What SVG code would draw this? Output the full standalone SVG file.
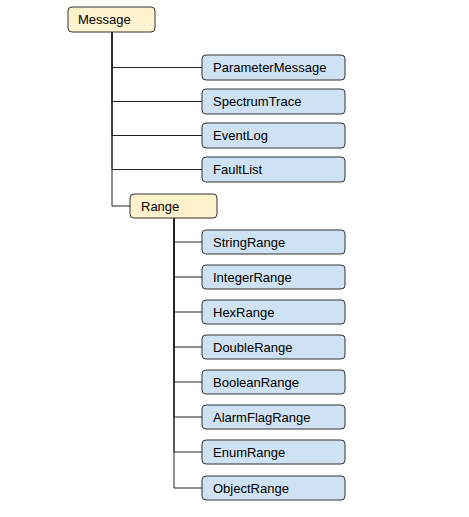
<svg xmlns="http://www.w3.org/2000/svg" width="469" height="517" viewBox="0 0 469 517">
<style>
.y{fill:#fff2cc;stroke:#333;stroke-width:1}
.b{fill:#cfe2f3;stroke:#333;stroke-width:1}
text{font-family:"Liberation Sans",Arial,sans-serif;font-size:13px;fill:#000;dominant-baseline:central}
.c{fill:none;stroke:#222;stroke-width:1}
</style>
<rect width="469" height="517" fill="#fff"/>
<g id="connectors">
<path class="c" d="M112 32V67.5H202"/>
<path class="c" d="M112 32V101.5H202"/>
<path class="c" d="M112 32V135.5H202"/>
<path class="c" d="M112 32V169.5H202"/>
<path class="c" d="M112 32V206H130"/>
<path class="c" d="M174 218V242H202"/>
<path class="c" d="M174 218V277H202"/>
<path class="c" d="M174 218V312H202"/>
<path class="c" d="M174 218V347H202"/>
<path class="c" d="M174 218V382H202"/>
<path class="c" d="M174 218V417H202"/>
<path class="c" d="M174 218V452H202"/>
<path class="c" d="M174 218V488H202"/>
</g>
<g id="Message"><rect class="y" x="68" y="7" width="87" height="25" rx="4"/><text x="78" y="19.5">Message</text></g>
<g id="ParameterMessage"><rect class="b" x="202" y="55" width="143" height="25" rx="4"/><text x="213" y="67.5">ParameterMessage</text></g>
<g id="SpectrumTrace"><rect class="b" x="202" y="89" width="143" height="25" rx="4"/><text x="213" y="101.5">SpectrumTrace</text></g>
<g id="EventLog"><rect class="b" x="202" y="123" width="143" height="25" rx="4"/><text x="213" y="135.5">EventLog</text></g>
<g id="FaultList"><rect class="b" x="202" y="157" width="143" height="25" rx="4"/><text x="213" y="169.5">FaultList</text></g>
<g id="Range"><rect class="y" x="130" y="194" width="87" height="24" rx="4"/><text x="141" y="206">Range</text></g>
<g id="StringRange"><rect class="b" x="202" y="230" width="143" height="24" rx="4"/><text x="213" y="242">StringRange</text></g>
<g id="IntegerRange"><rect class="b" x="202" y="265" width="143" height="24" rx="4"/><text x="213" y="277">IntegerRange</text></g>
<g id="HexRange"><rect class="b" x="202" y="300" width="143" height="24" rx="4"/><text x="213" y="312">HexRange</text></g>
<g id="DoubleRange"><rect class="b" x="202" y="335" width="143" height="24" rx="4"/><text x="213" y="347">DoubleRange</text></g>
<g id="BooleanRange"><rect class="b" x="202" y="370" width="143" height="24" rx="4"/><text x="213" y="382">BooleanRange</text></g>
<g id="AlarmFlagRange"><rect class="b" x="202" y="405" width="143" height="24" rx="4"/><text x="213" y="417">AlarmFlagRange</text></g>
<g id="EnumRange"><rect class="b" x="202" y="440" width="143" height="24" rx="4"/><text x="213" y="452">EnumRange</text></g>
<g id="ObjectRange"><rect class="b" x="202" y="476" width="143" height="24" rx="4"/><text x="213" y="488">ObjectRange</text></g>
</svg>
